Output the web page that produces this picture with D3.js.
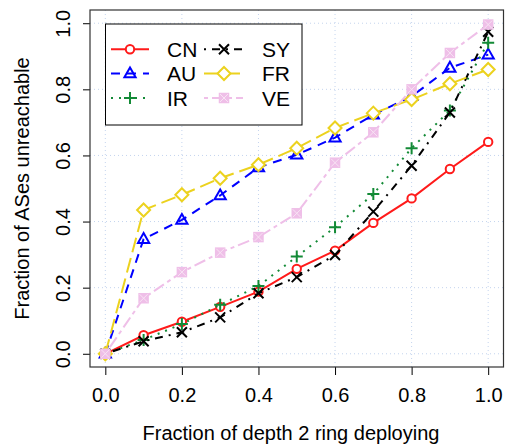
<!DOCTYPE html>
<html>
<head>
<meta charset="utf-8">
<script src="https://cdn.jsdelivr.net/npm/d3@7"></script>
<style>
  body { margin: 0; background: #fff; }
  svg { display: block; font-family: "Liberation Sans", Arial, sans-serif; }
</style>
</head>
<body>
<div id="chart"></div>
<script>
const xValues = [0.0, 0.1, 0.2, 0.3, 0.4, 0.5, 0.6, 0.7, 0.8, 0.9, 1.0];
const tickValues = [0.0, 0.2, 0.4, 0.6, 0.8, 1.0];

const cn = [0, 0.056, 0.097, 0.142, 0.188, 0.257, 0.312, 0.396, 0.470, 0.559, 0.641];
const au = [0, 0.347, 0.405, 0.479, 0.564, 0.602, 0.654, 0.723, 0.779, 0.865, 0.905];
const ir = [0, 0.042, 0.090, 0.148, 0.205, 0.294, 0.383, 0.483, 0.622, 0.736, 0.941];
const sy = [0, 0.038, 0.065, 0.110, 0.183, 0.232, 0.299, 0.430, 0.569, 0.730, 0.974];
const fr = [0, 0.435, 0.481, 0.531, 0.572, 0.622, 0.683, 0.728, 0.769, 0.817, 0.860];
const ve = [0, 0.168, 0.247, 0.306, 0.353, 0.425, 0.578, 0.670, 0.800, 0.910, 0.996];

const seriesNames = ["CN", "AU", "IR", "SY", "FR", "VE"];

main();

function main() {
  const width = 505;
  const height = 444;
  const box = { left: 90, right: 503.5, top: 10, bottom: 367 };

  const styles = {
    CN: { values: cn, color: "#ff1a1a", dash: null, shape: "circle" },
    AU: { values: au, color: "#0000ff", dash: "9,7", shape: "triangle" },
    IR: { values: ir, color: "#138a36", dash: "2,6", shape: "plus" },
    SY: { values: sy, color: "#000000", dash: "2,6,8,6", shape: "cross" },
    FR: { values: fr, color: "#ecd21e", dash: "15,6", shape: "diamond" },
    VE: { values: ve, color: "#efbfe8", dash: "4,4,12,4", shape: "boxcross" }
  };

  const svg = d3.select("#chart").append("svg")
    .attr("width", width)
    .attr("height", height);

  const x = d3.scaleLinear().domain([-0.04, 1.04]).range([box.left, box.right]);
  const y = d3.scaleLinear().domain([-0.04, 1.04]).range([box.bottom, box.top]);

  // grid
  const grid = svg.append("g")
    .attr("stroke", "#c4d4ee")
    .attr("stroke-width", 1)
    .attr("stroke-dasharray", "1,3");
  grid.selectAll(".gx").data(tickValues).join("line")
    .attr("x1", d => x(d)).attr("x2", d => x(d))
    .attr("y1", box.top).attr("y2", box.bottom);
  grid.selectAll(".gy").data(tickValues).join("line")
    .attr("x1", box.left).attr("x2", box.right)
    .attr("y1", d => y(d)).attr("y2", d => y(d));

  // axes
  const xAxis = svg.append("g")
    .attr("transform", `translate(0,${box.bottom})`)
    .call(d3.axisBottom(x).tickValues(tickValues).tickFormat(d3.format(".1f"))
      .tickSize(8).tickPadding(13));
  xAxis.select(".domain").remove();

  const yAxis = svg.append("g")
    .attr("transform", `translate(${box.left},0)`)
    .call(d3.axisLeft(y).tickValues(tickValues).tickFormat(d3.format(".1f"))
      .tickSize(7));
  yAxis.select(".domain").remove();
  yAxis.selectAll("text")
    .attr("transform", "rotate(-90)")
    .attr("text-anchor", "middle")
    .attr("x", 0)
    .attr("y", -20)
    .attr("dy", null);

  svg.selectAll(".tick text")
    .attr("font-size", 20)
    .attr("font-family", "Liberation Sans, Arial, sans-serif")
    .attr("fill", "#000");
  svg.selectAll(".tick line").attr("stroke", "#000");

  // box
  svg.append("rect")
    .attr("x", box.left).attr("y", box.top)
    .attr("width", box.right - box.left)
    .attr("height", box.bottom - box.top)
    .attr("fill", "none")
    .attr("stroke", "#333")
    .attr("stroke-width", 1.2);

  // axis titles
  svg.append("text")
    .attr("x", 291).attr("y", 440)
    .attr("text-anchor", "middle")
    .attr("font-size", 20)
    .text("Fraction of depth 2 ring deploying");

  svg.append("text")
    .attr("transform", `translate(29,${(box.top + box.bottom) / 2}) rotate(-90)`)
    .attr("text-anchor", "middle")
    .attr("font-size", 20)
    .text("Fraction of ASes unreachable");

  // lines and markers
  const line = d3.line().x((d, i) => x(xValues[i])).y(d => y(d));

  seriesNames.forEach(name => {
    const s = styles[name];
    svg.append("path")
      .datum(s.values)
      .attr("d", line)
      .attr("fill", "none")
      .attr("stroke", s.color)
      .attr("stroke-width", 2)
      .attr("stroke-dasharray", s.dash);

    svg.append("g").selectAll("g")
      .data(s.values)
      .join("g")
      .attr("transform", (d, i) => `translate(${x(xValues[i])},${y(d)})`)
      .each(function () { drawMarker(d3.select(this), s.shape, s.color); });
  });

  // legend
  const legend = svg.append("g");
  legend.append("rect")
    .attr("x", 105.5).attr("y", 24)
    .attr("width", 196.5).attr("height", 101)
    .attr("fill", "#fff")
    .attr("stroke", "#000")
    .attr("stroke-width", 1);

  const rowY = [49.3, 73.5, 98];
  const cols = [
    { x1: 111, x2: 149, mx: 130, tx: 167 },
    { x1: 204, x2: 243, mx: 224, tx: 262 }
  ];
  seriesNames.forEach((name, i) => {
    const s = styles[name];
    const c = cols[Math.floor(i / 3)];
    const ry = rowY[i % 3];
    legend.append("line")
      .attr("x1", c.x1).attr("x2", c.x2)
      .attr("y1", ry).attr("y2", ry)
      .attr("stroke", s.color)
      .attr("stroke-width", 2)
      .attr("stroke-dasharray", s.dash);
    const m = legend.append("g").attr("transform", `translate(${c.mx},${ry})`);
    drawMarker(m, s.shape, s.color);
    legend.append("text")
      .attr("x", c.tx).attr("y", ry + 7.6)
      .attr("font-size", 21)
      .text(name);
  });
}

function drawMarker(g, shape, color) {
  const r = 5;
  if (shape === "circle") {
    g.append("circle").attr("r", 4.2).attr("fill", "#fff")
      .attr("stroke", color).attr("stroke-width", 2);
  } else if (shape === "triangle") {
    g.append("path").attr("d", "M0,-6L5.6,3.8L-5.6,3.8Z").attr("fill", "none")
      .attr("stroke", color).attr("stroke-width", 2);
  } else if (shape === "plus") {
    g.append("path").attr("d", `M${-r - 1},0H${r + 1}M0,${-r - 1}V${r + 1}`)
      .attr("stroke", color).attr("stroke-width", 2);
  } else if (shape === "cross") {
    g.append("path").attr("d", `M${-r},${-r}L${r},${r}M${-r},${r}L${r},${-r}`)
      .attr("stroke", color).attr("stroke-width", 2);
  } else if (shape === "diamond") {
    g.append("path").attr("d", "M0,-6.5L6.5,0L0,6.5L-6.5,0Z").attr("fill", "#fff")
      .attr("stroke", color).attr("stroke-width", 2);
  } else if (shape === "boxcross") {
    g.append("rect").attr("x", -4.5).attr("y", -4.5).attr("width", 9).attr("height", 9)
      .attr("fill", color).attr("stroke", color).attr("stroke-width", 1.5);
    g.append("path").attr("d", "M-4,-4L4,4M-4,4L4,-4")
      .attr("stroke", "#f8e4f4").attr("stroke-width", 1);
  }
}
</script>
</body>
</html>
